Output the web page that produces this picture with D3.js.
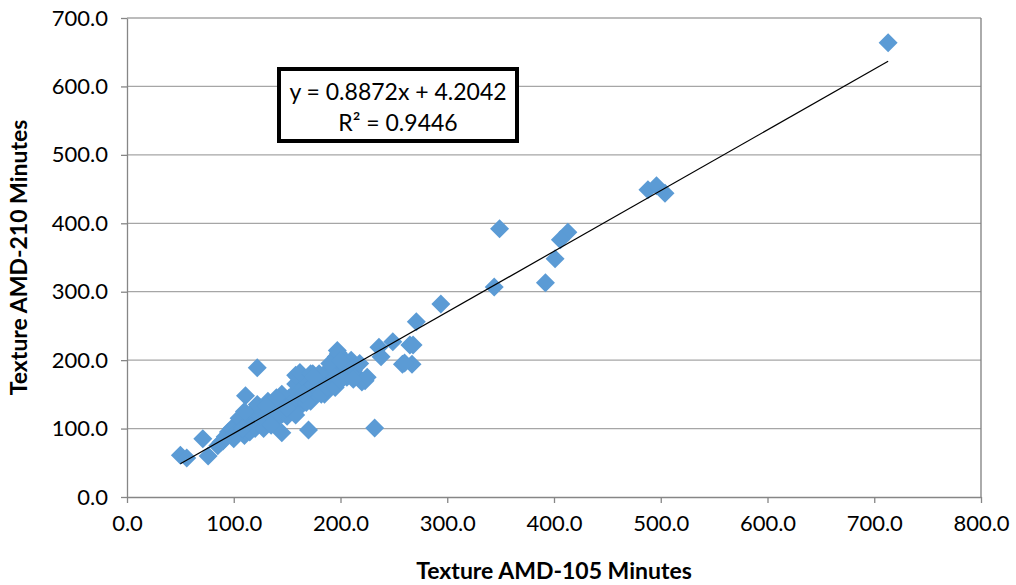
<!DOCTYPE html>
<html>
<head>
<meta charset="utf-8">
<script src="https://cdn.jsdelivr.net/npm/d3@7"></script>
<style>
  body { margin: 0; background: #fff; }
  text { font-family: Lato, "Open Sans", sans-serif; fill: #000; }
</style>
</head>
<body>
<svg class="scatter" width="1016" height="585"></svg>
<script>
// data
const texture105 = [
  713, 488, 496, 504, 349, 413, 406, 401, 392, 344, 294, 271, 265, 267, 258, 249, 236, 232, 238, 223,
  170, 122, 111, 145, 50, 56, 76, 71, 197, 260, 268,
  88, 92, 95, 98, 100, 102, 105, 108, 110, 112, 115, 118, 120, 122, 125, 126, 128, 130, 132, 134,
  136, 138, 140, 142, 144, 146, 148, 150, 152, 154, 155, 156, 158, 160, 160, 162, 164, 165, 166, 168,
  170, 172, 174, 175, 176, 178, 180, 182, 184, 185, 186, 188, 190, 192, 194, 195, 196, 198, 200, 202,
  204, 206, 208, 210, 212, 215, 218, 220, 225, 100, 105, 110, 115, 118, 122, 128, 132, 138, 142, 145,
  148, 152, 158, 162, 168, 172, 178, 182, 188, 192, 195, 200, 205, 212, 85, 90, 108, 125, 135, 150,
  165, 180, 190, 200, 140, 130, 158, 162, 172, 175
];
const texture210 = [
  664, 449, 455, 444, 392, 387, 376, 348, 313, 307, 282, 256, 222, 194, 194, 227, 219, 101, 205, 170,
  98, 189, 148, 94, 61, 57, 60, 85, 214, 196, 222,
  80, 88, 95, 100, 92, 105, 98, 112, 90, 120, 108, 125, 100, 115, 130, 108, 118, 125, 112, 135,
  120, 128, 115, 138, 130, 122, 140, 118, 145, 132, 125, 150, 165, 140, 175, 155, 135, 160, 148, 170,
  155, 140, 180, 165, 150, 158, 168, 175, 160, 150, 178, 185, 170, 165, 190, 175, 205, 210, 185, 195,
  180, 175, 190, 200, 185, 178, 195, 168, 175, 85, 115, 125, 95, 105, 135, 100, 140, 110, 125, 150,
  128, 135, 120, 145, 138, 160, 172, 150, 160, 180, 160, 170, 198, 172, 75, 82, 100, 118, 105, 130,
  150, 180, 195, 200, 145, 133, 178, 182, 180, 175
];
const xTicks = [0, 100, 200, 300, 400, 500, 600, 700, 800];
const yTicks = [0, 100, 200, 300, 400, 500, 600, 700];
const slope = 0.8872;
const intercept = 4.2042;
const r2 = 0.9446;

const svg = d3.select('.scatter');
const margin = { left: 127, top: 18, right: 35, bottom: 88 };
const width = +svg.attr('width') - margin.left - margin.right;
const height = +svg.attr('height') - margin.top - margin.bottom;

const data = texture105.map((d, i) => ({ x: d, y: texture210[i] }));

const x = d3.scaleLinear().domain([0, 800]).range([0, width]);
const y = d3.scaleLinear().domain([0, 700]).range([height, 0]);

const g = svg.append('g')
    .attr('transform', `translate(${margin.left} ${margin.top})`);

// horizontal gridlines
g.selectAll('.grid')
    .data(yTicks.slice(1))
    .enter()
    .append('line')
    .attr('x1', 0)
    .attr('x2', width)
    .attr('y1', d => y(d))
    .attr('y2', d => y(d))
    .attr('stroke', '#a6a6a6')
    .attr('stroke-width', 1.3);

// plot area right border
g.append('line')
    .attr('x1', width).attr('x2', width)
    .attr('y1', 0).attr('y2', height)
    .attr('stroke', '#7f7f7f')
    .attr('stroke-width', 1.3);

const xAxis = d3.axisBottom(x)
    .tickValues(xTicks)
    .tickFormat(d3.format('.1f'))
    .tickSizeInner(6)
    .tickSizeOuter(0)
    .tickPadding(9);

const yAxis = d3.axisLeft(y)
    .tickValues(yTicks)
    .tickFormat(d3.format('.1f'))
    .tickSizeInner(6)
    .tickSizeOuter(0)
    .tickPadding(13);

const xAxisG = g.append('g')
    .attr('transform', `translate(0, ${height})`)
    .call(xAxis);

const yAxisG = g.append('g').call(yAxis);

[xAxisG, yAxisG].forEach(a => {
    a.selectAll('.domain').attr('stroke', '#868686').attr('stroke-width', 1.3);
    a.selectAll('.tick line').attr('stroke', '#868686').attr('stroke-width', 1.3);
    a.selectAll('.tick text')
        .attr('fill', '#000')
        .style('font-size', '22px');
});
xAxisG.selectAll('.tick text').attr('dy', '0.85em');

// axis titles
g.append('text')
    .attr('x', width / 2)
    .attr('y', height + 82)
    .attr('text-anchor', 'middle')
    .style('font-size', '23px')
    .style('font-weight', 'bold')
    .text('Texture AMD-105 Minutes');

g.append('text')
    .attr('transform', 'rotate(-90)')
    .attr('x', -height / 2)
    .attr('y', -100)
    .attr('text-anchor', 'middle')
    .style('font-size', '23px')
    .style('font-weight', 'bold')
    .text('Texture AMD-210 Minutes');

// points
g.selectAll('.pt')
    .data(data)
    .enter()
    .append('path')
    .attr('class', 'pt')
    .attr('transform', d => `translate(${x(d.x)} ${y(d.y)})`)
    .attr('d', 'M0,-9.5L9.5,0L0,9.5L-9.5,0Z')
    .attr('fill', '#5b9bd5');

// trendline
const xMin = d3.min(texture105);
const xMax = d3.max(texture105);
g.append('line')
    .attr('x1', x(xMin))
    .attr('y1', y(slope * xMin + intercept))
    .attr('x2', x(xMax))
    .attr('y2', y(slope * xMax + intercept))
    .attr('stroke', '#000')
    .attr('stroke-width', 1.2);

// equation box
const box = svg.append('g').attr('transform', 'translate(279 69)');
box.append('rect')
    .attr('width', 238)
    .attr('height', 72)
    .attr('fill', '#fff')
    .attr('stroke', '#000')
    .attr('stroke-width', 4);
box.append('text')
    .attr('x', 119)
    .attr('y', 31)
    .attr('text-anchor', 'middle')
    .style('font-size', '23px')
    .text(`y = ${slope}x + ${intercept}`);
box.append('text')
    .attr('x', 119)
    .attr('y', 62)
    .attr('text-anchor', 'middle')
    .style('font-size', '23px')
    .text(`R² = ${r2}`);
</script>
</body>
</html>
